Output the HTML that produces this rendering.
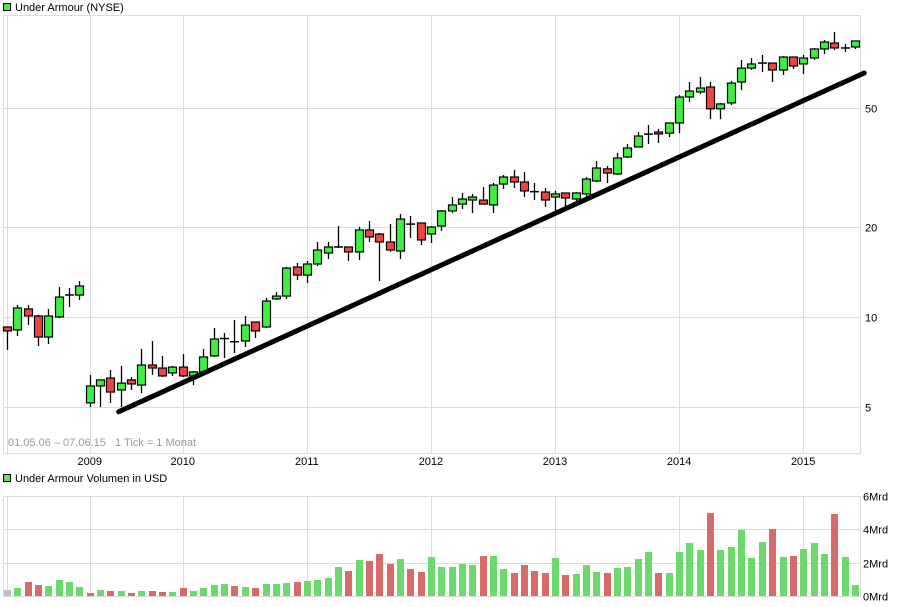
<!DOCTYPE html>
<html><head><meta charset="utf-8">
<style>
html,body{margin:0;padding:0;background:#fff;}
svg{display:block;font-family:"Liberation Sans",sans-serif;}
</style></head>
<body>
<svg id="chart" width="907" height="607" viewBox="0 0 907 607">
  <rect x="0" y="0" width="907" height="607" fill="#fff"/>
  <g>
    <rect x="3.5" y="3.5" width="7" height="7" fill="#3ef03e" stroke="#000"/>
    <text x="15" y="11" font-size="11" fill="#000">Under Armour (NYSE)</text>
  </g>
  <g>
    <rect x="3.5" y="474.5" width="7" height="7" fill="#6cd96c" stroke="#000"/>
    <text x="15" y="482" font-size="11" fill="#000">Under Armour Volumen in USD</text>
  </g>
  <g id="priceGrid"></g>
  <g id="volGrid"></g>
  <text x="8" y="446" font-size="11" fill="#999" style="white-space:pre">01.05.06 – 07.06.15   1 Tick = 1 Monat</text>
  <g id="candles"></g>
  <g id="trend"></g>
  <g id="vols"></g>
  <g id="axes"></g>
</svg>
<script>
const opens  = [9.26,9.05,10.64,10.08,8.57,10,11.8,11.84,5.16,5.88,6.25,5.70,6.16,5.92,6.91,6.75,6.50,6.80,6.35,6.55,7.41,8.44,8.25,8.31,9.62,9.26,11.49,11.75,14.70,13.81,15.04,16.37,17.1,17.15,16.5,19.55,18.95,17.82,16.62,20.4,20.63,18.95,20.15,22.63,23.86,24.62,24.62,23.7,27.84,29.39,28.28,26.2,26.19,25.2,25.99,24.81,25.8,28.5,31.3,30.08,34.29,37.04,40.8,41.57,41.2,44.56,54.43,56.57,58.79,49.7,52.0,61.1,68.0,70.6,70.7,67.0,74.07,70.2,73.5,78.8,82.5,79.3,80.0];
const highs  = [9.3,10.97,10.97,10.16,10.64,12.6,12.5,13.19,6.40,6.16,6.65,6.86,6.30,7.82,8.31,7.41,6.86,7.52,6.6,7.82,9.19,8.84,9.77,10.08,9.65,11.58,12.12,14.70,15.16,15.39,17.82,17.82,20.15,17.2,20,20.95,19.1,20.48,22.11,21.77,20.7,20.15,22.8,25.2,26.0,25.8,27.21,28.06,29.85,31.04,30.55,28.06,27.0,26.4,26.0,26.19,29.39,33.26,32.0,35.36,37.9,41.57,43.87,42.55,44.6,55.27,61.1,63.5,61.1,52.0,61.6,72.4,73.5,75.2,70.8,74.6,74.1,75.2,79.4,84.4,89.8,81.9,83.8];
const lows   = [7.76,8.64,9.40,8.0,8.12,9.92,10.8,11.4,5.0,5.0,5.16,5.0,5.70,5.57,6.40,6.3,6.35,6.30,5.92,6.50,7.35,7.29,7.58,7.94,8.50,9.19,11.4,11.49,13.3,12.99,14.81,15.63,17.0,15.39,15.5,17.82,13.19,16.5,15.63,18.38,17.41,17.68,19.40,22.26,22.98,22.26,23.8,22.26,26.79,27.0,25.2,24.62,23.33,22.45,23.33,24.06,25.2,28.28,28.06,29.85,34.03,37.0,37.9,38.2,40.0,41.2,52.38,55.7,45.9,45.9,51.2,57.4,67.0,66.0,61.1,64.5,67.5,65.0,72.4,75.7,78.2,77.0,78.8];
const closes = [8.98,10.72,10.08,8.57,10.08,11.66,11.9,12.7,5.88,6.16,5.61,6.01,5.97,6.91,6.75,6.35,6.80,6.35,6.55,7.35,8.44,8.5,8.28,9.40,8.98,11.31,11.75,14.58,13.81,15.04,16.75,17.15,17.2,16.5,19.55,18.52,17.82,16.75,21.27,20.5,18.10,20.0,22.63,23.7,24.81,25.2,23.86,27.63,29.39,28.28,26.4,26.3,24.62,25.8,25.0,26.0,28.94,31.5,30.3,34.03,36.76,40.31,41.0,40.94,44.56,54.43,57.0,58.35,49.7,51.6,60.6,68.0,70.2,70.8,67.0,74.07,69.1,73.5,78.8,83.14,79.4,79.5,83.8];
const volumes = [0.36,0.48,0.84,0.66,0.6,0.96,0.84,0.54,0.18,0.36,0.3,0.3,0.18,0.3,0.3,0.24,0.24,0.48,0.3,0.48,0.66,0.72,0.6,0.54,0.48,0.72,0.72,0.78,0.84,0.9,0.96,1.08,1.74,1.5,2.16,2.1,2.52,1.92,2.22,1.62,1.44,2.34,1.74,1.74,1.92,1.86,2.4,2.4,1.62,1.38,1.86,1.5,1.38,2.28,1.26,1.32,1.86,1.44,1.38,1.68,1.74,2.22,2.64,1.38,1.38,2.64,3.18,2.76,4.98,2.76,2.94,3.96,2.28,3.24,4.02,2.34,2.4,2.82,3.18,2.52,4.92,2.34,0.66];
const yearLabels = ["2009","2010","2011","2012","2013","2014","2015"];
const yearIndex = [8,17,29,41,53,65,77];
const priceTicks = [5,10,20,50];
const volTicks = [0,2,4,6];
const volTickLabels = ["0Mrd","2Mrd","4Mrd","6Mrd"];
const trendStart = [10.8,4.82];
const trendEnd = [82.9,65.5];

const NS="http://www.w3.org/2000/svg";
const P={l:3,r:860,t:15,b:453}, V={t:496,b:596};
const x = i => 7 + 10.34*i;
const y = p => 317 - 90*Math.log2(p/10);
const vy = v => V.b - v*(V.b-V.t)/6;
function mk(tag,attrs,parent){const e=document.createElementNS(NS,tag);for(const k in attrs)e.setAttribute(k,attrs[k]);parent.appendChild(e);return e;}
const pg=document.getElementById('priceGrid'), vg=document.getElementById('volGrid'), ax=document.getElementById('axes');
const GC="#dcdcdc";
let e;
e=mk('rect',{x:P.l+0.5,y:P.t+0.5,width:P.r-P.l,height:P.b-P.t,fill:'none',stroke:GC},pg);


e=mk('rect',{x:P.l+0.5,y:V.t+0.5,width:P.r-P.l,height:V.b-V.t,fill:'none',stroke:GC},vg);


[pg,vg].forEach((g,gi)=>{
  const top=gi?V.t:P.t, bot=gi?V.b:P.b;
  e=mk('line',{x1:7.5,x2:7.5,y1:top,y2:bot,stroke:GC},g);
  
  
  yearIndex.forEach((yi,k)=>{
    const xx=Math.round(x(yi))+0.5;
    e=mk('line',{x1:xx,x2:xx,y1:top,y2:bot,stroke:GC},g);
    
    
  });
});
yearIndex.forEach((yi,k)=>{
  e=mk('text',{x:x(yi),y:465,'font-size':11,'text-anchor':'middle',fill:'#000'},ax);
  e.textContent=yearLabels[k];
  
  
});
priceTicks.forEach(p=>{
  const yy=Math.round(y(p))+0.5;
  e=mk('line',{x1:P.l,x2:P.r,y1:yy,y2:yy,stroke:GC},pg);
  
  
  e=mk('text',{x:865,y:yy+4,'font-size':11,fill:'#000'},ax);
  e.textContent=String(p);
  
  
});
volTicks.forEach((v,k)=>{
  const yy=Math.round(vy(v))+0.5;
  e=mk('line',{x1:P.l,x2:P.r,y1:yy,y2:yy,stroke:GC},vg);
  
  
  e=mk('text',{x:863,y:yy+4,'font-size':11,fill:'#000'},ax);
  e.textContent=volTickLabels[k];
  
  
});
const cg=document.getElementById('candles');
opens.forEach((o,i)=>{
  const c=closes[i], cx=Math.round(x(i))+0.5;
  const g=mk('g',{},cg);
  
  
  e=mk('line',{x1:cx,x2:cx,y1:y(highs[i]),y2:y(lows[i]),stroke:'#000','stroke-width':1.3},g);
  
  
  const t=Math.min(y(o),y(c)), b=Math.max(y(o),y(c));
  if(b-t<1.5){
    e=mk('line',{x1:cx-4.5,x2:cx+4.5,y1:(t+b)/2,y2:(t+b)/2,stroke:'#000','stroke-width':1.5},g);
  } else {
    e=mk('rect',{x:cx-4,y:t,width:8,height:b-t,fill:c>=o?'#3ef03e':'#f04444',stroke:'#000','stroke-width':1.2},g);
  }
  
  
});
e=mk('line',{x1:x(trendStart[0]),y1:y(trendStart[1]),x2:x(trendEnd[0]),y2:y(trendEnd[1]),stroke:'#000','stroke-width':5,'stroke-linecap':'round'},document.getElementById('trend'));


const vgp=document.getElementById('vols');
volumes.forEach((v,i)=>{
  const col = i===0 ? '#c0c0c0' : (closes[i]>=closes[i-1] ? '#6cd96c' : '#d96a6a');
  const cx=Math.round(x(i));
  e=mk('rect',{x:cx-3,y:vy(v),width:7,height:V.b-vy(v),fill:col},vgp);
  
  
});
</script>
</body></html>
